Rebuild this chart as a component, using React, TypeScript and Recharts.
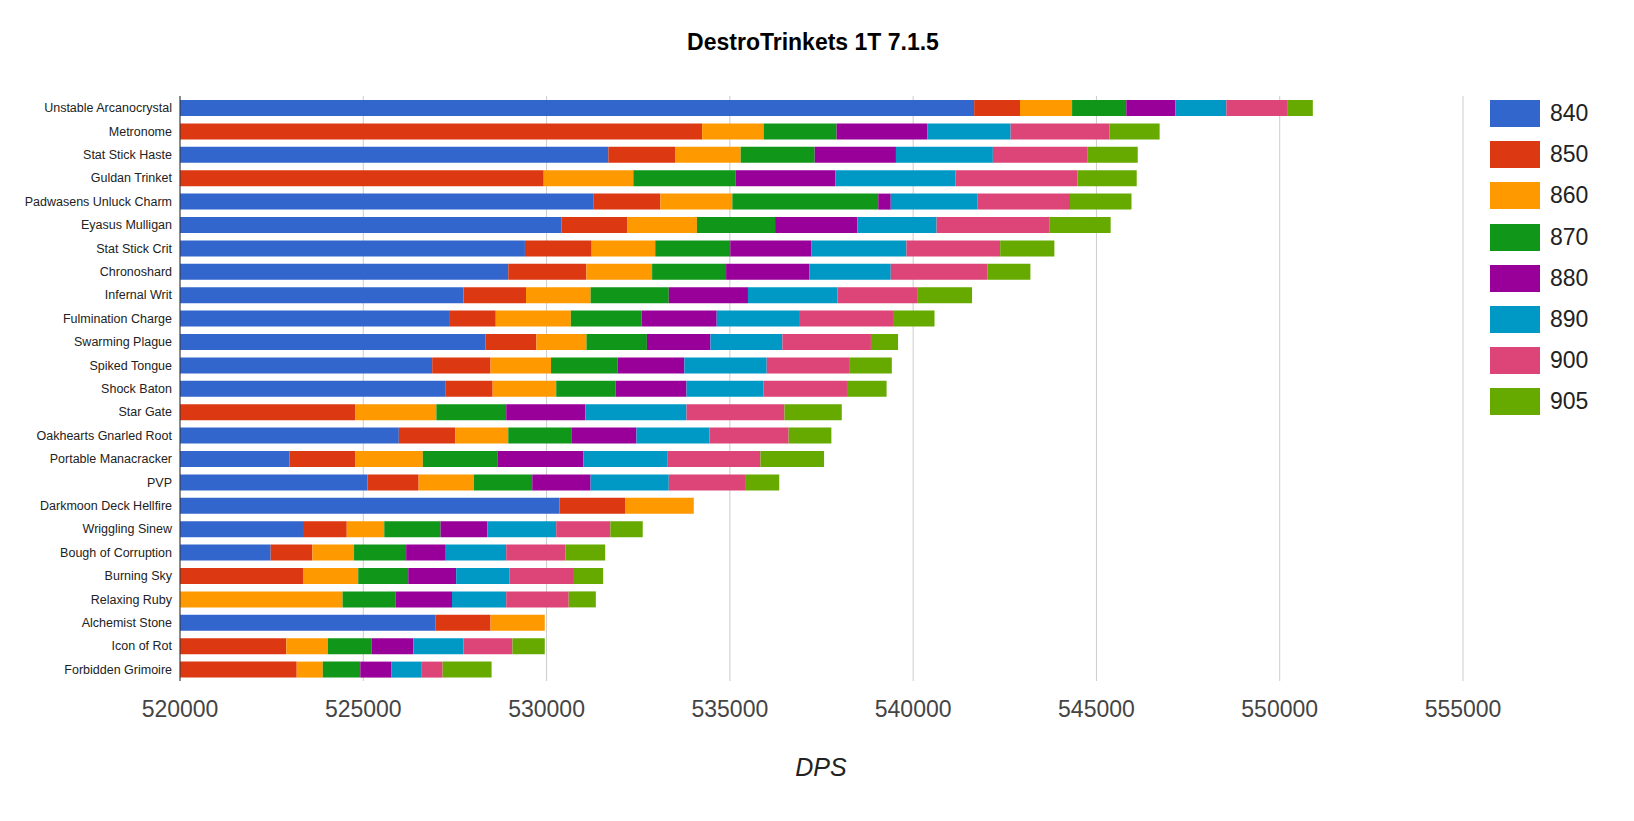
import { BarChart, Bar, XAxis, YAxis, CartesianGrid } from "recharts";

const BASE = 520000;

const trinkets = [
  "Unstable Arcanocrystal", "Metronome", "Stat Stick Haste", "Guldan Trinket", "Padwasens Unluck Charm",
  "Eyasus Mulligan", "Stat Stick Crit", "Chronoshard", "Infernal Writ", "Fulmination Charge",
  "Swarming Plague", "Spiked Tongue", "Shock Baton", "Star Gate", "Oakhearts Gnarled Root",
  "Portable Manacracker", "PVP", "Darkmoon Deck Hellfire", "Wriggling Sinew", "Bough of Corruption",
  "Burning Sky", "Relaxing Ruby", "Alchemist Stone", "Icon of Rot", "Forbidden Grimoire",
];

// DPS at each item level (null = not simulated)
const dps840 = [541664, null, 531685, null, 531287, 530405, 529410, 528955, 527733, 527363, 528330, 526880, 527250, null, 525970, 522985, 525117, 530349, 523355, 522473, null, null, 526965, null, null];
const dps850 = [542915, 534243, 533504, 529922, 533106, 532196, 531230, 531088, 529439, 528614, 529723, 528472, 528529, 524776, 527506, 524776, 526510, 532140, 524549, 523611, 523355, null, 528472, 522900, 523184];
const dps860 = [544336, 535921, 535295, 532367, 535068, 534101, 532964, 532879, 531201, 530661, 531088, 530121, 530263, 526994, 528955, 526624, 528017, 534016, 525572, 524748, 524862, 524435, 529951, 524037, 523895];
const dps870 = [545814, 537911, 537314, 535153, 539048, 536234, 535011, 534897, 533334, 532594, 532737, 531941, 531884, 528899, 530690, 528671, 529609, null, 527108, 526169, 526226, 525885, null, 525231, 524918];
const dps880 = [547151, 540384, 539531, 537882, 539389, 538480, 537229, 537172, 535494, 534641, 534471, 533760, 533817, 531059, 532452, 531002, 531201, null, 528387, 527250, 527534, 527420, null, 526368, 525771];
const dps890 = [548544, 542659, 542175, 541152, 541749, 540640, 539816, 539389, 537939, 536887, 536433, 536006, 535921, 533817, 534442, 533305, 533334, null, 530263, 528899, 528984, 528899, null, 527733, 526596];
const dps900 = [550221, 545360, 544763, 544478, 544279, 543711, 542374, 542033, 540128, 539475, 538849, 538252, 538195, 536489, 536603, 535835, 535437, null, 531741, 530519, 530747, 530604, null, 529069, 527164];
const dps905 = [550903, 546724, 546127, 546099, 545957, 545388, 543853, 543199, 541607, 540583, 539588, 539418, 539276, 538053, 537769, 537570, 536347, null, 532623, 531599, 531543, 531344, null, 529951, 528500];

const ilvls = ["840", "850", "860", "870", "880", "890", "900", "905"];
const series = [dps840, dps850, dps860, dps870, dps880, dps890, dps900, dps905];
const colors = ["#3366cc", "#dc3912", "#ff9900", "#109618", "#990099", "#0099c6", "#dd4477", "#66aa00"];
const ticks = [0, 5000, 10000, 15000, 20000, 25000, 30000, 35000];

const data = trinkets.map((name, i) => {
  const row: Record<string, number | string> = { name };
  let prev = BASE;
  series.forEach((s, k) => {
    const v = s[i];
    if (v == null) {
      row[ilvls[k]] = 0;
    } else {
      row[ilvls[k]] = v - prev;
      prev = v;
    }
  });
  return row;
});

const FONT = "'Liberation Sans', Arial, sans-serif";

export default function App() {
  return (
    <div style={{ position: "absolute", left: 0, top: 0, width: 1634, height: 821, background: "#fff", fontFamily: FONT }}>
      <div style={{ position: "absolute", top: 29, left: 0, width: 1626, textAlign: "center", fontWeight: "bold", fontSize: 23 }}>
        DestroTrinkets 1T 7.1.5
      </div>
      <BarChart
        layout="vertical"
        width={1634}
        height={821}
        data={data}
        margin={{ top: 96, right: 171, bottom: 100, left: 0 }}
        barSize={16}
      >
        <CartesianGrid horizontal={false} stroke="#cccccc" />
        <XAxis
          type="number"
          domain={[0, 35000]}
          ticks={ticks}
          tickFormatter={(v: number) => String(v + BASE)}
          axisLine={false}
          tickLine={false}
          height={40}
          tick={{ fill: "#444", fontSize: 23, fontFamily: FONT, dy: 12 }}
        />
        <YAxis
          type="category"
          dataKey="name"
          width={180}
          interval={0}
          axisLine={{ stroke: "#333" }}
          tickLine={false}
          tick={{ fill: "#222", fontSize: 12.5, fontFamily: FONT }}
        />
        {ilvls.map((k, i) => (
          <Bar key={k} dataKey={k} stackId="a" fill={colors[i]} isAnimationActive={false} />
        ))}
      </BarChart>
      <div style={{ position: "absolute", top: 753, left: 0, width: 1642, textAlign: "center", fontStyle: "italic", fontSize: 25, color: "#222" }}>
        DPS
      </div>
      <div style={{ position: "absolute", left: 1490, top: 93 }}>
        {ilvls.map((k, i) => (
          <div key={k} style={{ display: "flex", alignItems: "center", height: 41.2 }}>
            <div style={{ width: 50, height: 27, background: colors[i], marginRight: 10 }} />
            <span style={{ fontSize: 23, color: "#222" }}>{k}</span>
          </div>
        ))}
      </div>
    </div>
  );
}
